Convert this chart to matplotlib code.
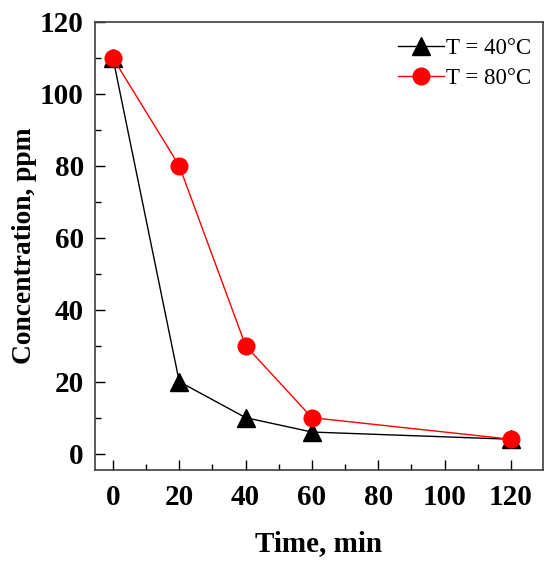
import matplotlib
matplotlib.use("Agg")
import matplotlib.pyplot as plt
from matplotlib.ticker import MultipleLocator

# data
time_min = [0, 20, 40, 60, 120]
conc_40 = [110, 20, 10, 6, 4]
conc_80 = [110, 80, 30, 10, 4]

plt.rcParams['font.family'] = ['Liberation Serif', 'DejaVu Serif']

fig = plt.figure(figsize=(5.59, 5.64), dpi=100)
ax = fig.add_axes([0.170, 0.167, 0.801, 0.794])

ax.plot(time_min, conc_40, color='black', lw=1.0, marker='^', ms=13,
        label='T = 40°C')
ax.plot(time_min, conc_80, color='red', lw=1.0, marker='o', ms=12,
        label='T = 80°C')

ax.set_xlim(-5.4, 129.6)
ax.set_ylim(-4.5, 120)
ax.xaxis.set_major_locator(MultipleLocator(20))
ax.xaxis.set_minor_locator(MultipleLocator(10))
ax.yaxis.set_major_locator(MultipleLocator(20))
ax.yaxis.set_minor_locator(MultipleLocator(10))
ax.tick_params(which='both', direction='in', top=False, right=False,
               labelsize=21, width=1.0)
ax.tick_params(which='major', length=7)
ax.tick_params(axis='x', which='major', pad=10)
ax.tick_params(axis='y', which='major', pad=8)
ax.tick_params(which='minor', length=4)
for lab in ax.get_xticklabels() + ax.get_yticklabels():
    lab.set_fontweight('bold')
for sp in ax.spines.values():
    sp.set_color('#404040')
    sp.set_linewidth(1.2)

ax.set_xlabel('Time, min', fontsize=21, fontweight='bold', labelpad=14)
ax.set_ylabel('Concentration, ppm', fontsize=19.8, fontweight='bold', labelpad=2)

ax.legend(loc='upper right', bbox_to_anchor=(1.0, 0.99), frameon=False,
          fontsize=16.5, handlelength=2.0, handletextpad=0.1,
          borderaxespad=0.1, labelspacing=0.38)

fig.savefig('out.png', dpi=100)
